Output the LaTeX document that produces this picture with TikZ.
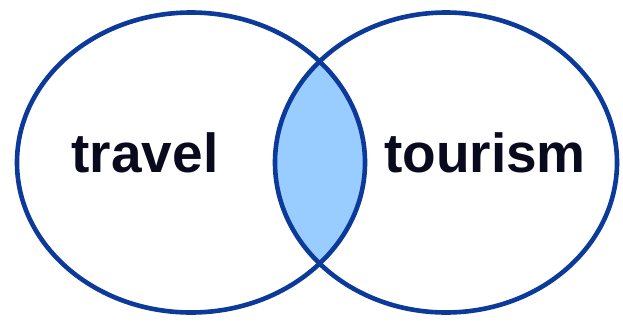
\documentclass[tikz,border=0pt]{standalone}
\usepackage{fontspec}
\setmainfont{Liberation Sans}
\definecolor{ringblue}{HTML}{0B3A9B}
\definecolor{lensblue}{HTML}{99CCFF}
\definecolor{inkdark}{HTML}{0A0A1E}
\begin{document}
\begin{tikzpicture}[x=1pt,y=-1pt,
  ring/.style={draw=ringblue,line width=4.6pt},
  word/.style={anchor=base,text=inkdark,font=\bfseries\fontsize{55}{60}\selectfont,inner sep=0pt}]
\useasboundingbox (0,0) rectangle (623,322);
\begin{scope}
  \clip (191,162.5) ellipse [x radius=174,y radius=150];
  \fill[lensblue] (446,162.5) ellipse [x radius=171,y radius=150];
\end{scope}
\draw[ring] (191,162.5) ellipse [x radius=174,y radius=150];
\draw[ring] (446,162.5) ellipse [x radius=171,y radius=150];
\node[word] (travel) at (145,172) {travel};
\node[word] (tourism) at (485,172) {tourism};
\end{tikzpicture}
\end{document}
